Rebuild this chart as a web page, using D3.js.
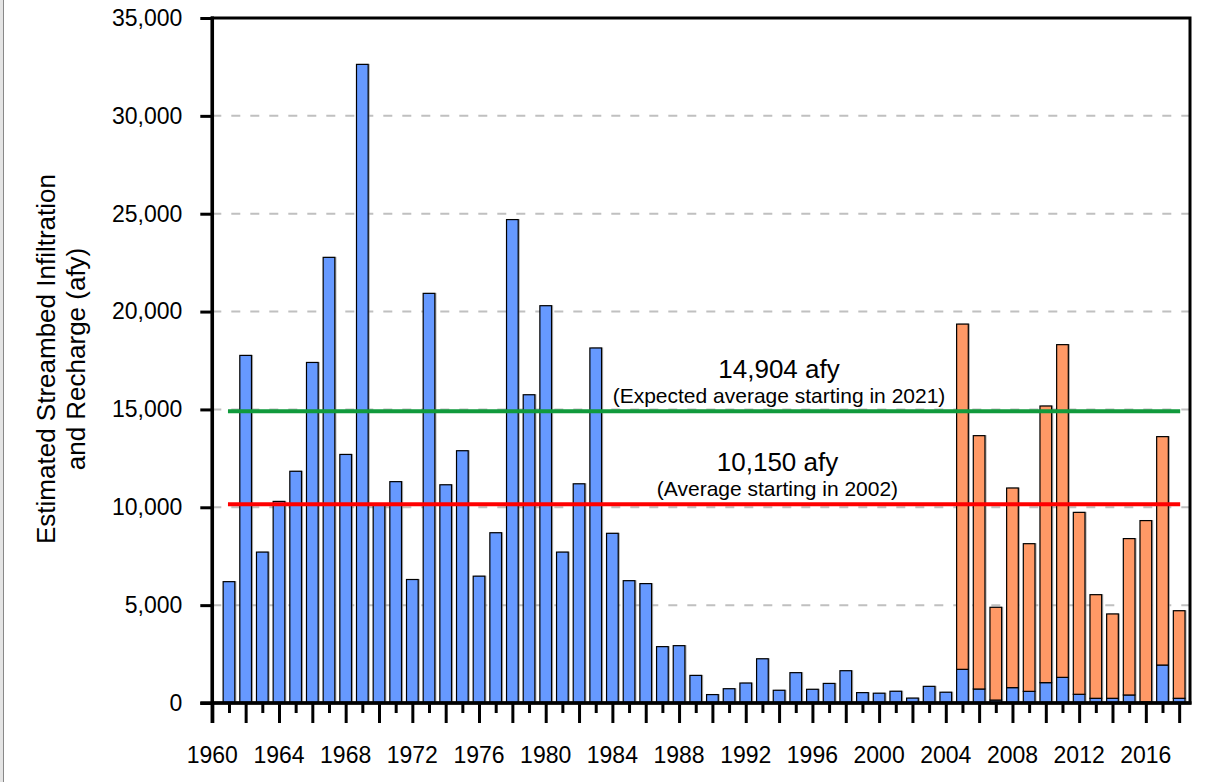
<!DOCTYPE html>
<html>
<head>
<meta charset="utf-8">
<script src="https://cdnjs.cloudflare.com/ajax/libs/d3/7.8.5/d3.min.js"></script>
<style>
  html, body { margin: 0; padding: 0; background: #fff; }
  svg { display: block; }
  text { font-family: "Liberation Sans", Arial, sans-serif; fill: #000; }
</style>
</head>
<body>
<svg id="chart" width="1225" height="782"></svg>
<script>
// ---------- data ----------
const years = d3.range(1961, 2019);
// Natural streambed infiltration (blue), afy
const natural = [
  6200, 17760, 7710, 10300, 11840, 17400, 22770, 12700, 32630, 10120,
  11310, 6310, 20930, 11150, 12890, 6480, 8700, 24700, 15750, 20300,
  7710, 11200, 18140, 8670, 6250, 6100, 2880, 2930, 1410, 430,
  730, 1020, 2260, 650, 1550, 700, 1000, 1650, 530, 500,
  600, 250, 850, 550, 1720, 715, 150, 785, 595, 1040,
  1310, 445, 240, 240, 410, 50, 1940, 240
];
// Additional recharge (orange), afy (2005-2018; 0 before)
const additional = [
  0, 0, 0, 0, 0, 0, 0, 0, 0, 0,
  0, 0, 0, 0, 0, 0, 0, 0, 0, 0,
  0, 0, 0, 0, 0, 0, 0, 0, 0, 0,
  0, 0, 0, 0, 0, 0, 0, 0, 0, 0,
  0, 0, 0, 0, 17640, 12945, 4740, 10200, 7545, 14135,
  17000, 9295, 5295, 4310, 7990, 9270, 11670, 4475
];
const yTicks = [0, 5000, 10000, 15000, 20000, 25000, 30000, 35000];
const xLabelYears = d3.range(1960, 2017, 4);
const averages = [14904, 10150];
const averageLabels = ["14,904 afy", "10,150 afy"];
const averageNotes = ["(Expected average starting in 2021)", "(Average starting in 2002)"];
const yTitle = ["Estimated Streambed Infiltration", "and Recharge (afy)"];

(function () {
// ---------- layout ----------
const svg = d3.select("#chart");
const pLeft = 212.3, pRight = 1190, pTop = 18, pBottom = 703;
const x = d3.scaleLinear().domain([1960, 2018.65]).range([pLeft, pRight]);
const y = d3.scaleLinear().domain([0, 35000]).range([pBottom, pTop]);
const step = x(1961) - x(1960);
const barW = step * 0.7;

// left page edge artifact
svg.append("rect").attr("x", 0).attr("y", 0).attr("width", 3).attr("height", 782).attr("fill", "#e4e4e4");
svg.append("line").attr("x1", 3.5).attr("x2", 3.5).attr("y1", 0).attr("y2", 782).attr("stroke", "#888").attr("stroke-width", 1);

// gridlines
svg.append("g").selectAll("line")
  .data(yTicks.filter(v => v > 0 && v < 35000))
  .join("line")
  .attr("x1", pLeft).attr("x2", pRight)
  .attr("y1", d => y(d)).attr("y2", d => y(d))
  .attr("stroke", "#c0c0c0").attr("stroke-width", 2)
  .attr("stroke-dasharray", "9,10");

// bars
const rows = years.map((yr, i) => ({ year: yr, nat: natural[i], add: additional[i] }));
const gBars = svg.append("g");
gBars.selectAll("rect.shadow")
  .data(rows)
  .join("rect")
  .attr("class", "shadow")
  .attr("x", d => x(d.year) - barW / 2 + 1.6)
  .attr("y", d => y(d.nat + d.add) - 0.5)
  .attr("width", barW)
  .attr("height", d => pBottom - y(d.nat + d.add) + 0.5)
  .attr("fill", "#8a8a8a").attr("opacity", 0.7);
gBars.selectAll("rect.nat")
  .data(rows)
  .join("rect")
  .attr("class", "nat")
  .attr("x", d => x(d.year) - barW / 2)
  .attr("y", d => y(d.nat))
  .attr("width", barW)
  .attr("height", d => pBottom - y(d.nat))
  .attr("fill", "#6699ff").attr("stroke", "#000").attr("stroke-width", 1.2);
gBars.selectAll("rect.add")
  .data(rows.filter(d => d.add > 0))
  .join("rect")
  .attr("class", "add")
  .attr("x", d => x(d.year) - barW / 2)
  .attr("y", d => y(d.nat + d.add))
  .attr("width", barW)
  .attr("height", d => y(d.nat) - y(d.nat + d.add))
  .attr("fill", "#ff9966").attr("stroke", "#000").attr("stroke-width", 1.2);

// average lines
const lineColors = ["#109a3c", "#ff0000"];
svg.append("g").selectAll("line")
  .data(averages)
  .join("line")
  .attr("x1", x(1961) - 1).attr("x2", x(2018) + 1)
  .attr("y1", d => y(d)).attr("y2", d => y(d))
  .attr("stroke", (d, i) => lineColors[i]).attr("stroke-width", 4);

// plot border
svg.append("rect")
  .attr("x", pLeft).attr("y", pTop)
  .attr("width", pRight - pLeft).attr("height", pBottom - pTop)
  .attr("fill", "none").attr("stroke", "#000").attr("stroke-width", 3);

// y axis
const yAxis = svg.append("g")
  .attr("transform", `translate(${pLeft},0)`)
  .call(d3.axisLeft(y).tickValues(yTicks).tickSize(12).tickPadding(18).tickFormat(d3.format(",")));
yAxis.select(".domain").remove();
yAxis.selectAll(".tick line").attr("stroke", "#000").attr("stroke-width", 3);
yAxis.selectAll(".tick text")
  .style("font-family", "'Liberation Sans', Arial, sans-serif")
  .style("font-size", "23px").attr("fill", "#000");
svg.append("line").attr("x1", pLeft).attr("x2", pLeft).attr("y1", pTop - 1.5).attr("y2", pBottom + 20)
  .attr("stroke", "#000").attr("stroke-width", 3.5);

// x axis ticks: long at even years, short at odd years
const xLong = svg.append("g").attr("transform", `translate(0,${pBottom})`)
  .call(d3.axisBottom(x).tickValues(d3.range(1960, 2019, 2)).tickSize(20).tickFormat(""));
xLong.select(".domain").remove();
xLong.selectAll(".tick line").attr("stroke", "#000").attr("stroke-width", 3);
const xShort = svg.append("g").attr("transform", `translate(0,${pBottom})`)
  .call(d3.axisBottom(x).tickValues(d3.range(1961, 2019, 2)).tickSize(10).tickFormat(""));
xShort.select(".domain").remove();
xShort.selectAll(".tick line").attr("stroke", "#000").attr("stroke-width", 3);
svg.append("line").attr("x1", pLeft - 12).attr("x2", pRight + 1.5).attr("y1", pBottom).attr("y2", pBottom)
  .attr("stroke", "#000").attr("stroke-width", 3.5);

// x labels
svg.append("g").selectAll("text")
  .data(xLabelYears)
  .join("text")
  .attr("x", d => x(d))
  .attr("y", 763)
  .attr("text-anchor", "middle")
  .style("font-size", "23px")
  .text(d => d);

// y title
const yt = svg.append("g").attr("transform", "translate(0,359)");
yt.selectAll("text")
  .data(yTitle)
  .join("text")
  .attr("transform", (d, i) => `translate(${55 + i * 30},0) rotate(-90)`)
  .attr("text-anchor", "middle")
  .style("font-size", "26px")
  .text(d => d);

// average annotations
const annX = [779, 777.5];
const g = svg.append("g");
averages.forEach((v, i) => {
  g.append("text")
    .attr("x", annX[i]).attr("y", y(v) - 33)
    .attr("text-anchor", "middle")
    .style("font-size", "26px")
    .text(averageLabels[i]);
  g.append("text")
    .attr("x", annX[i]).attr("y", y(v) - 8.5)
    .attr("text-anchor", "middle")
    .style("font-size", "21px")
    .text(averageNotes[i]);
});
})();
</script>
</body>
</html>
